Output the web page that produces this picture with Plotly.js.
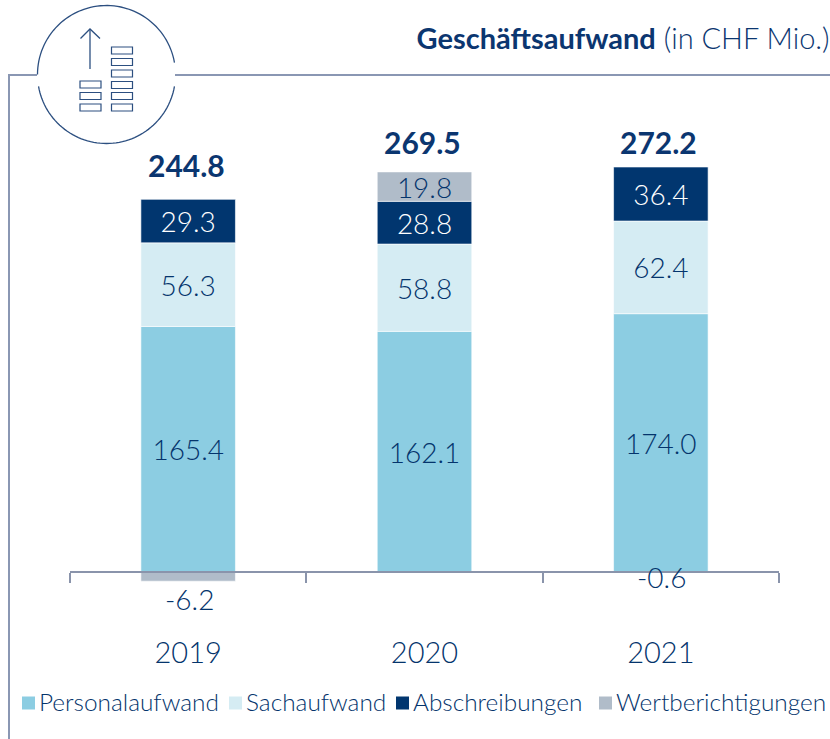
<!DOCTYPE html>
<html>
<head>
<meta charset="utf-8">
<script src="https://cdn.plot.ly/plotly-3.0.1.min.js"></script>
<style>html,body{margin:0;padding:0;background:#fff}#chart{width:830px;height:739px}</style>
</head>
<body>
<div id="chart"></div>
<script>
const years = ['2019', '2020', '2021'];
const personalaufwand = [165.4, 162.1, 174.0];
const sachaufwand = [56.3, 58.8, 62.4];
const abschreibungen = [29.3, 28.8, 36.4];
const wertberichtigungen = [-6.2, 19.8, -0.6];
const totals = [244.8, 269.5, 272.2];
const seriesNames = ['Personalaufwand', 'Sachaufwand', 'Abschreibungen', 'Wertberichtigungen'];
const seriesColors = ['#8ccde2', '#d5ecf3', '#01366f', '#b0bcc9'];

const W = 830, H = 739, L = 70, R = 779, T = 120, B = 612, ZERO = 572;
const FONT = 'Lato, "Open Sans", sans-serif';
const INK = '#04346c', NAVY = '#0b3670', FRAME = '#8a97b3', AXIS = '#8a94ab';
const px = x => (x - L) / (R - L);
const py = y => (B - y) / (B - T);
const scale = 1.4846;
const yMax = (ZERO - T) / scale, yMin = -(B - ZERO) / scale;

function bar(vals, i, textColor, texts) {
  return {
    type: 'bar', x: years, y: vals, name: seriesNames[i],
    marker: {color: seriesColors[i], line: {color: '#ffffff', width: 0.6}},
    text: texts || vals.map(v => v.toFixed(1)),
    textposition: 'inside', insidetextanchor: 'middle', constraintext: 'none',
    textangle: 0,
    textfont: {family: FONT, size: 28, color: textColor, weight: 300},
    hoverinfo: 'x+y+name', cliponaxis: false
  };
}
const data = [
  bar(personalaufwand, 0, INK),
  bar(sachaufwand, 1, INK),
  bar(abschreibungen, 2, '#ffffff'),
  bar(wertberichtigungen, 3, INK, wertberichtigungen.map(v => v > 0 ? v.toFixed(1) : ''))
];

// Icon and frame (decoration)
function arc(cx, cy, r, a0, a1) {
  let d = '';
  const n = 60;
  for (let i = 0; i <= n; i++) {
    const a = (a0 + (a1 - a0) * i / n) * Math.PI / 180;
    const x = cx + r * Math.cos(a), y = cy + r * Math.sin(a);
    d += (i ? 'L' : 'M') + px(x).toFixed(5) + ',' + py(y).toFixed(5);
  }
  return d;
}
function line(pts) {
  return pts.map((p, i) => (i ? 'L' : 'M') + px(p[0]).toFixed(5) + ',' + py(p[1]).toFixed(5)).join('');
}
function deco(path, color, width) {
  return {type: 'path', xref: 'paper', yref: 'paper', path, line: {color, width}, layer: 'above'};
}
const shapes = [
  deco(line([[9, 739], [9, 75], [37, 75]]), FRAME, 2),
  deco(line([[175, 75], [830, 75]]), FRAME, 2),
  deco(arc(106.5, 74.5, 69, 10, 170), '#2c4f80', 1.3),
  deco(arc(106.5, 74.5, 69, 180, 350), '#2c4f80', 1.3),
  deco(line([[90, 69], [90, 29]]), '#2c4f80', 1.3),
  deco(line([[80.5, 38.5], [90, 29], [100, 38.5]]), '#2c4f80', 1.3)
];
[[80, 81], [80, 92.5], [80, 104], [111.5, 47], [111.5, 58.5], [111.5, 70], [111.5, 81.5], [111.5, 92.5], [111.5, 104]].forEach(r => {
  shapes.push(deco(line([[r[0], r[1]], [r[0] + 21, r[1]], [r[0] + 21, r[1] + 7], [r[0], r[1] + 7], [r[0], r[1]]]) + 'Z', '#2c4f80', 1.2));
});

const annotations = [];
// Totals above the stacks
const totalGap = [14, 10, 5];
totals.forEach((t, i) => {
  const top = personalaufwand[i] + sachaufwand[i] + abschreibungen[i] + Math.max(wertberichtigungen[i], 0);
  annotations.push({
    x: i, y: top, xref: 'x', yref: 'y', text: '<b>' + t.toFixed(1) + '</b>', showarrow: false,
    yanchor: 'bottom', yshift: totalGap[i], xshift: -2, font: {family: FONT, size: 30, color: NAVY}
  });
});
// Negative labels below the axis
const negShift = [1, 0, 15];
wertberichtigungen.forEach((v, i) => {
  if (v < 0) annotations.push({
    x: i, y: v, xref: 'x', yref: 'y', text: v.toFixed(1), showarrow: false,
    yanchor: 'top', yshift: negShift[i], xshift: 1, font: {family: FONT, size: 28, color: INK, weight: 300}
  });
});
// Legend row
const swatchX = [22, 229, 396, 599];
const LEG_Y = 703;
seriesNames.forEach((n, i) => {
  shapes.push({type: 'rect', xref: 'paper', yref: 'paper',
    x0: px(swatchX[i]), x1: px(swatchX[i] + 13), y0: py(LEG_Y - 6.5), y1: py(LEG_Y + 6.5),
    fillcolor: seriesColors[i], line: {width: 0}, layer: 'above'});
  annotations.push({
    xref: 'paper', yref: 'paper', x: px(swatchX[i] + 15), y: py(LEG_Y - 1.5), xanchor: 'left', yanchor: 'middle',
    text: n, showarrow: false, font: {family: FONT, size: 24.4, color: INK, weight: 300}
  });
});

const layout = {
  width: W, height: H,
  margin: {l: L, r: W - R, t: T, b: H - B, pad: 0},
  paper_bgcolor: '#ffffff', plot_bgcolor: '#ffffff',
  barmode: 'relative', bargap: 0.6,
  showlegend: false,
  font: {family: FONT, color: INK},
  title: {
    text: '<b>Geschäftsaufwand</b> (in CHF Mio.)',
    xref: 'container', yref: 'container', x: 0.9995, xanchor: 'right', y: 1 - 39 / H, yanchor: 'middle',
    font: {family: FONT, size: 29, color: NAVY, weight: 300}
  },
  xaxis: {
    type: 'category', categoryorder: 'array', categoryarray: years,
    range: [-0.5, 2.5], tickson: 'boundaries', ticks: 'outside', ticklen: 10, tickwidth: 2, tickcolor: AXIS,
    showline: true, linecolor: AXIS, linewidth: 2, showgrid: false, zeroline: false,
    anchor: 'free', position: (B - ZERO) / (B - T), ticklabelstandoff: 55,
    tickfont: {family: FONT, size: 29, color: INK, weight: 300}
  },
  yaxis: {range: [yMin, yMax], visible: false, showgrid: false, zeroline: false, fixedrange: true},
  shapes, annotations
};
Plotly.newPlot('chart', data, layout, {displayModeBar: false, staticPlot: true});
</script>
</body>
</html>
